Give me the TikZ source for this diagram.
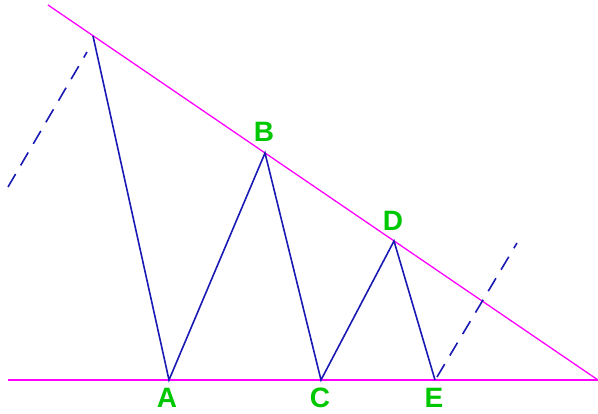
\documentclass[tikz,border=0pt]{standalone}
\usepackage{fontspec}
\setsansfont{Liberation Sans}
\usetikzlibrary{calc}
\definecolor{waveblue}{RGB}{25,25,180}
\definecolor{tagGreen}{RGB}{0,200,0}
\definecolor{edgeMagenta}{RGB}{255,0,255}
\tikzset{
  wave/.style={waveblue, line width=1.6pt},
  guide/.style={edgeMagenta, line width=1.3pt},
  extend/.style={wave, dash pattern=on 15pt off 10pt},
  tag/.style={tagGreen, inner sep=0pt, font=\sffamily\bfseries\fontsize{28}{28}\selectfont}
}

\begin{document}
\begin{tikzpicture}[x=1pt,y=-1pt]
\useasboundingbox (0,0) rectangle (598,414);
% turning points
\coordinate (P) at (93,36);
\coordinate (A) at (169,380);
\coordinate (B) at (265,153);
\coordinate (C) at (321,380);
\coordinate (D) at (394,241);
\coordinate (E) at (435,380);
% guide lines
\coordinate (top) at (48,5);
\coordinate (apex) at (598,380);
\coordinate (base) at (8,380);
\draw[guide] (top) -- (apex);
\draw[guide] (base) -- (apex);
% wave
\draw[wave] (P) -- (A) -- (B) -- (C) -- (D) -- (E);
\coordinate (inL) at (8,187);
\coordinate (inR) at (87,52);
\coordinate (outL) at (437,377);
\coordinate (outR) at (517,243);
\draw[extend] (inL) -- (inR);
\draw[extend] (outL) -- (outR);
% labels
\node[tag] (tagA) at (167,398) {A};
\node[tag] (tagB) at (264,132) {B};
\node[tag] (tagC) at (320,398) {C};
\node[tag] (tagD) at (393,221) {D};
\node[tag] (tagE) at (434,398) {E};
\end{tikzpicture}
\end{document}
